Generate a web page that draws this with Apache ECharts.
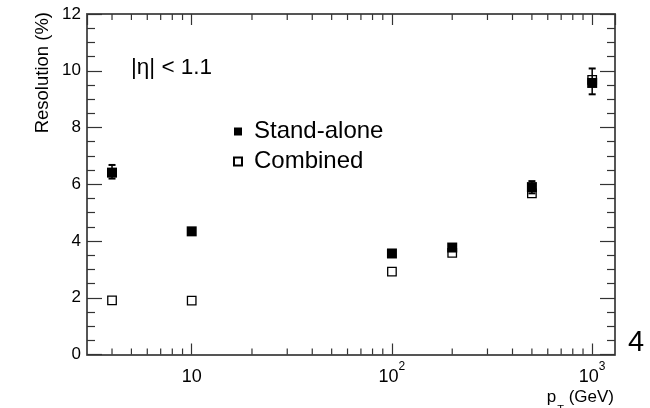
<!DOCTYPE html>
<html>
<head>
<meta charset="utf-8">
<script src="https://cdn.jsdelivr.net/npm/echarts@6/dist/echarts.min.js"></script>
<style>
  html, body { margin: 0; padding: 0; background: #fff; }
  #chart { width: 650px; height: 408px; }
</style>
</head>
<body>
<div id="chart"></div>
<script>
// ---- data ----
const ptValues   = [4, 10, 100, 200, 500, 1000];
const standAlone = [6.41, 4.34, 3.56, 3.77, 5.90, 9.57];
const combined   = [1.91, 1.90, 2.92, 3.58, 5.68, 9.68];
const saErrLow   = [6.20, null, null, null, 5.68, 9.17];
const saErrHigh  = [6.68, null, null, null, 6.11, 10.08];
const xMajorTicks  = [10, 100, 1000];
const xMajorLabels = ['10', '10^2', '10^3'];
const xMinorTicks  = [4, 5, 6, 7, 8, 9, 20, 30, 40, 50, 60, 70, 80, 90, 200, 300, 400, 500, 600, 700, 800, 900];
const yTickLabels  = ['0', '2', '4', '6', '8', '10', '12'];

const FONT = 'Liberation Sans, Arial, Helvetica, sans-serif';
const LINE = '#555';
const TICK = '#333';

const chart = echarts.init(document.getElementById('chart'), null, { renderer: 'canvas' });

function xLabel(v) {
  const i = xMajorTicks.findIndex(t => Math.abs(t - v) / t < 1e-6);
  if (i < 0) return '';
  const parts = xMajorLabels[i].split('^');
  return parts.length > 1 ? '{b|' + parts[0] + '}{s|' + parts[1] + '}' : '{b|' + parts[0] + '}';
}

const xAxisCommon = {
  type: 'log', logBase: 10, min: 3, max: 1300,
  axisLine: { show: true, onZero: false, lineStyle: { color: LINE, width: 2 } },
  axisTick: { show: true, inside: true, length: 11, lineStyle: { color: TICK, width: 1.2 } },
  splitLine: { show: false },
  minorTick: { show: false }
};
const yAxisCommon = {
  type: 'value', min: 0, max: 12, interval: 2,
  axisLine: { show: true, onZero: false, lineStyle: { color: LINE, width: 2 } },
  axisTick: { show: true, inside: true, length: 15, lineStyle: { color: TICK, width: 1.2 } },
  minorTick: { show: true, splitNumber: 4, length: 8, lineStyle: { color: TICK, width: 1.2 } },
  splitLine: { show: false },
  minorSplitLine: { show: false }
};

const option = {
  backgroundColor: '#fff',
  animation: false,
  grid: { left: 87, right: 35, top: 14, bottom: 53.5, containLabel: false },
  xAxis: [
    Object.assign({}, xAxisCommon, {
      position: 'bottom',
      axisLabel: {
        show: true, showMinLabel: false, showMaxLabel: false, margin: 6,
        formatter: xLabel,
        rich: {
          b: { fontSize: 18, fontFamily: FONT, color: '#000', lineHeight: 26, verticalAlign: 'bottom' },
          s: { fontSize: 12, fontFamily: FONT, color: '#000', lineHeight: 12, verticalAlign: 'top' }
        }
      }
    }),
    Object.assign({}, xAxisCommon, { position: 'top', axisLabel: { show: false } })
  ],
  yAxis: [
    Object.assign({}, yAxisCommon, {
      position: 'left',
      axisLabel: {
        show: true, margin: 6, fontSize: 17, fontFamily: FONT, color: '#000',
        formatter: v => yTickLabels[Math.round(v / 2)] ?? ''
      }
    }),
    Object.assign({}, yAxisCommon, { position: 'right', axisLabel: { show: false } })
  ],
  legend: {
    orient: 'vertical', left: 233, top: 119.5, padding: 0, itemWidth: 8, itemHeight: 8, itemGap: 6,
    textStyle: { fontSize: 24, fontFamily: FONT, color: '#000', lineHeight: 24, padding: [0, 0, 0, 7] },
    data: [
      { name: 'Stand-alone', icon: 'rect' },
      { name: 'Combined', icon: 'rect' }
    ]
  },
  graphic: [
    { type: 'text', x: 131, y: 67.5, style: { text: '|η| < 1.1', fontSize: 22.5, fontFamily: FONT, fill: '#000', align: 'left', verticalAlign: 'middle' } },
    { type: 'text', x: 43, y: 12, rotation: Math.PI / 2, style: { text: 'Resolution (%)', fontSize: 18.5, fontFamily: FONT, fill: '#000', align: 'right', verticalAlign: 'middle' } },
    { type: 'text', x: 614, y: 397, style: {
        text: '{a|p}{t|T}{a| (GeV)}', align: 'right', verticalAlign: 'middle',
        rich: {
          a: { fontSize: 17, fontFamily: FONT, fill: '#000', lineHeight: 17, verticalAlign: 'top' },
          t: { fontSize: 11, fontFamily: FONT, fill: '#000', lineHeight: 11, padding: [16, 0, 0, 1], verticalAlign: 'top' }
        }
    } },
    { type: 'text', x: 636, y: 343, style: { text: '4', fontSize: 29, fontFamily: FONT, fill: '#000', align: 'center', verticalAlign: 'middle' } }
  ],
  series: [
    {
      name: 'minorTicks', type: 'custom', xAxisIndex: 0, yAxisIndex: 0, silent: true,
      data: xMinorTicks.map(v => [v]),
      renderItem: function (params, api) {
        const v = api.value(0);
        const b = api.coord([v, 0]);
        const t = api.coord([v, 12]);
        const st = { stroke: TICK, lineWidth: 1.2 };
        return { type: 'group', children: [
          { type: 'line', shape: { x1: b[0], y1: b[1], x2: b[0], y2: b[1] - 6 }, style: st },
          { type: 'line', shape: { x1: t[0], y1: t[1], x2: t[0], y2: t[1] + 6 }, style: st }
        ] };
      },
      z: 1
    },
    {
      name: 'Combined', type: 'scatter', symbol: 'rect', symbolSize: 8.5,
      itemStyle: { color: '#fff', borderColor: '#000', borderWidth: 1.3, opacity: 1 },
      data: ptValues.map((x, i) => [x, combined[i]]),
      z: 3
    },
    {
      name: 'saErrors', type: 'custom', silent: true,
      data: ptValues.map((x, i) => [x, saErrLow[i], saErrHigh[i]]).filter(d => d[1] != null),
      renderItem: function (params, api) {
        const lo = api.coord([api.value(0), api.value(1)]);
        const hi = api.coord([api.value(0), api.value(2)]);
        const st = { stroke: '#000', lineWidth: 1.5 };
        const w = 3.5;
        return { type: 'group', children: [
          { type: 'line', shape: { x1: lo[0], y1: lo[1], x2: hi[0], y2: hi[1] }, style: st },
          { type: 'line', shape: { x1: lo[0] - w, y1: lo[1], x2: lo[0] + w, y2: lo[1] }, style: { stroke: '#000', lineWidth: 2 } },
          { type: 'line', shape: { x1: hi[0] - w, y1: hi[1], x2: hi[0] + w, y2: hi[1] }, style: { stroke: '#000', lineWidth: 2 } }
        ] };
      },
      z: 4
    },
    {
      name: 'Stand-alone', type: 'scatter', symbol: 'rect', symbolSize: 10,
      itemStyle: { color: '#000', opacity: 1 },
      data: ptValues.map((x, i) => [x, standAlone[i]]),
      z: 5
    }
  ]
};
chart.setOption(option);
</script>
</body>
</html>
